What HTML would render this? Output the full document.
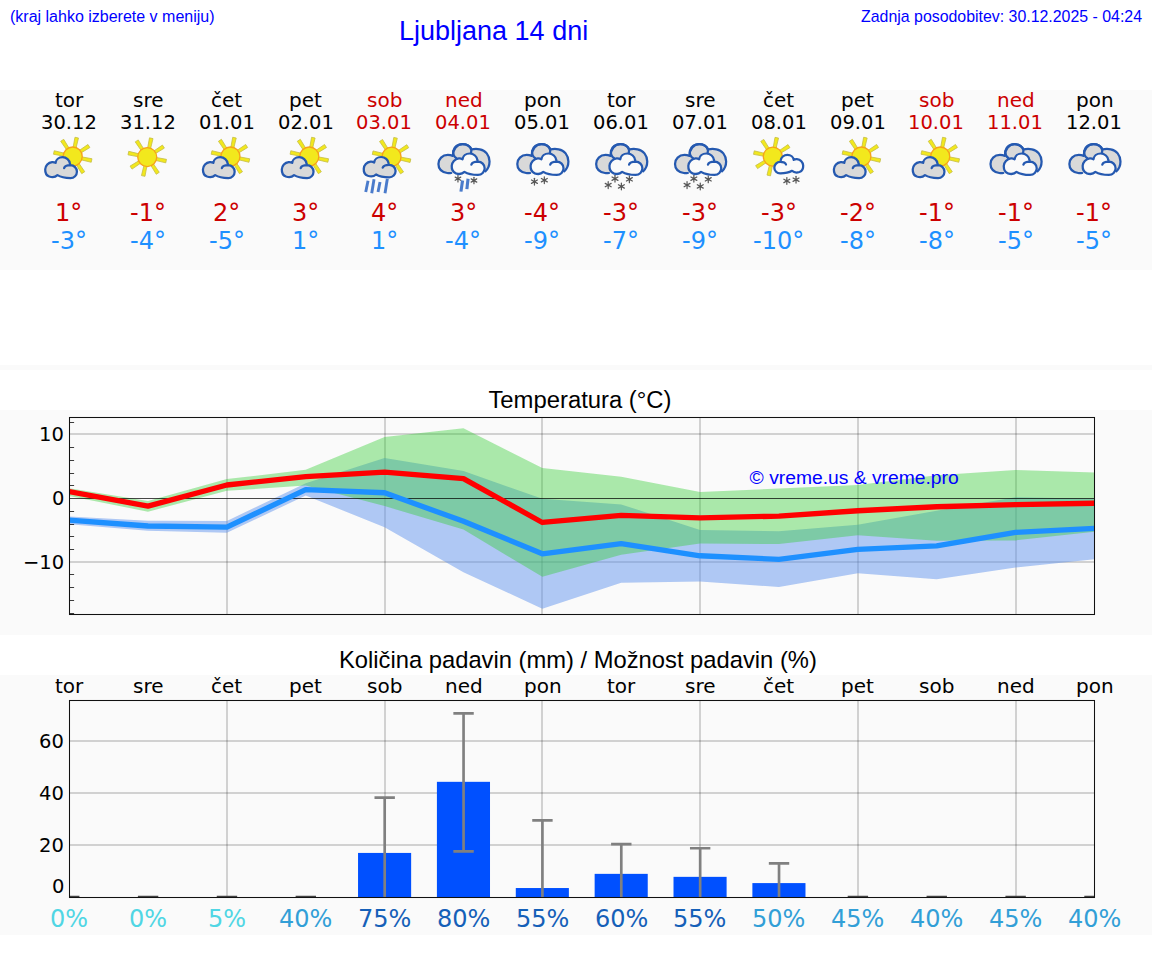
<!DOCTYPE html>
<html><head><meta charset="utf-8"><title>Ljubljana 14 dni</title>
<style>
html,body{margin:0;padding:0;background:#fff;}
body{width:1152px;height:975px;position:relative;overflow:hidden;font-family:"Liberation Sans",sans-serif;}
.t{position:absolute;white-space:nowrap;line-height:1;}
svg text{font-family:"DejaVu Sans","Liberation Sans",sans-serif;}
</style></head><body>
<svg width="1152" height="975" viewBox="0 0 1152 975" style="position:absolute;left:0;top:0"><rect x="0" y="90" width="1152" height="180" fill="#fafafa"/>
<rect x="0" y="365" width="1152" height="5" fill="#fafafa"/>
<rect x="0" y="410" width="1152" height="225" fill="#fafafa"/>
<rect x="0" y="675" width="1152" height="260" fill="#fafafa"/>
<text x="55" y="107" font-size="20" fill="#000">tor</text>
<text x="41" y="129" font-size="19.5" fill="#000">30.12</text>
<text x="55" y="220.7" font-size="24" fill="#cc0000">1°</text>
<text x="51" y="248.6" font-size="24" fill="#1e90ff">-3°</text>
<text x="133" y="107" font-size="20" fill="#000">sre</text>
<text x="120" y="129" font-size="19.5" fill="#000">31.12</text>
<text x="130" y="220.7" font-size="24" fill="#cc0000">-1°</text>
<text x="130" y="248.6" font-size="24" fill="#1e90ff">-4°</text>
<text x="211" y="107" font-size="20" fill="#000">čet</text>
<text x="199" y="129" font-size="19.5" fill="#000">01.01</text>
<text x="213" y="220.7" font-size="24" fill="#cc0000">2°</text>
<text x="209" y="248.6" font-size="24" fill="#1e90ff">-5°</text>
<text x="289" y="107" font-size="20" fill="#000">pet</text>
<text x="278" y="129" font-size="19.5" fill="#000">02.01</text>
<text x="292" y="220.7" font-size="24" fill="#cc0000">3°</text>
<text x="292" y="248.6" font-size="24" fill="#1e90ff">1°</text>
<text x="367" y="107" font-size="20" fill="#cc0000">sob</text>
<text x="356" y="129" font-size="19.5" fill="#cc0000">03.01</text>
<text x="371" y="220.7" font-size="24" fill="#cc0000">4°</text>
<text x="371" y="248.6" font-size="24" fill="#1e90ff">1°</text>
<text x="445" y="107" font-size="20" fill="#cc0000">ned</text>
<text x="435" y="129" font-size="19.5" fill="#cc0000">04.01</text>
<text x="450" y="220.7" font-size="24" fill="#cc0000">3°</text>
<text x="445" y="248.6" font-size="24" fill="#1e90ff">-4°</text>
<text x="524" y="107" font-size="20" fill="#000">pon</text>
<text x="514" y="129" font-size="19.5" fill="#000">05.01</text>
<text x="524" y="220.7" font-size="24" fill="#cc0000">-4°</text>
<text x="524" y="248.6" font-size="24" fill="#1e90ff">-9°</text>
<text x="607" y="107" font-size="20" fill="#000">tor</text>
<text x="593" y="129" font-size="19.5" fill="#000">06.01</text>
<text x="603" y="220.7" font-size="24" fill="#cc0000">-3°</text>
<text x="603" y="248.6" font-size="24" fill="#1e90ff">-7°</text>
<text x="685" y="107" font-size="20" fill="#000">sre</text>
<text x="672" y="129" font-size="19.5" fill="#000">07.01</text>
<text x="682" y="220.7" font-size="24" fill="#cc0000">-3°</text>
<text x="682" y="248.6" font-size="24" fill="#1e90ff">-9°</text>
<text x="763" y="107" font-size="20" fill="#000">čet</text>
<text x="751" y="129" font-size="19.5" fill="#000">08.01</text>
<text x="761" y="220.7" font-size="24" fill="#cc0000">-3°</text>
<text x="753" y="248.6" font-size="24" fill="#1e90ff">-10°</text>
<text x="841" y="107" font-size="20" fill="#000">pet</text>
<text x="830" y="129" font-size="19.5" fill="#000">09.01</text>
<text x="840" y="220.7" font-size="24" fill="#cc0000">-2°</text>
<text x="840" y="248.6" font-size="24" fill="#1e90ff">-8°</text>
<text x="919" y="107" font-size="20" fill="#cc0000">sob</text>
<text x="908" y="129" font-size="19.5" fill="#cc0000">10.01</text>
<text x="919" y="220.7" font-size="24" fill="#cc0000">-1°</text>
<text x="919" y="248.6" font-size="24" fill="#1e90ff">-8°</text>
<text x="997" y="107" font-size="20" fill="#cc0000">ned</text>
<text x="987" y="129" font-size="19.5" fill="#cc0000">11.01</text>
<text x="998" y="220.7" font-size="24" fill="#cc0000">-1°</text>
<text x="998" y="248.6" font-size="24" fill="#1e90ff">-5°</text>
<text x="1076" y="107" font-size="20" fill="#000">pon</text>
<text x="1066" y="129" font-size="19.5" fill="#000">12.01</text>
<text x="1076" y="220.7" font-size="24" fill="#cc0000">-1°</text>
<text x="1076" y="248.6" font-size="24" fill="#1e90ff">-5°</text>
<polygon points="75.95,148.50 78.49,138.00 74.97,137.25 73.02,147.87" fill="#f2e81d" stroke="#c4bd45" stroke-width="0.8" stroke-linejoin="round"/><polygon points="80.67,153.13 89.89,147.50 87.93,144.48 79.03,150.61" fill="#f2e81d" stroke="#c4bd45" stroke-width="0.8" stroke-linejoin="round"/><polygon points="80.72,159.73 91.22,162.27 91.97,158.75 81.35,156.80" fill="#f2e81d" stroke="#c4bd45" stroke-width="0.8" stroke-linejoin="round"/><polygon points="76.09,164.45 81.72,173.67 84.74,171.71 78.61,162.81" fill="#f2e81d" stroke="#c4bd45" stroke-width="0.8" stroke-linejoin="round"/><polygon points="69.49,164.50 66.95,175.00 70.47,175.75 72.42,165.13" fill="#f2e81d" stroke="#c4bd45" stroke-width="0.8" stroke-linejoin="round"/><polygon points="64.77,159.87 55.55,165.50 57.51,168.52 66.41,162.39" fill="#f2e81d" stroke="#c4bd45" stroke-width="0.8" stroke-linejoin="round"/><polygon points="64.72,153.27 54.22,150.73 53.47,154.25 64.09,156.20" fill="#f2e81d" stroke="#c4bd45" stroke-width="0.8" stroke-linejoin="round"/><polygon points="69.35,148.55 63.72,139.33 60.70,141.29 66.83,150.19" fill="#f2e81d" stroke="#c4bd45" stroke-width="0.8" stroke-linejoin="round"/><circle cx="72.72" cy="156.50" r="9.5" fill="#f2e81d" stroke="#f6a21a" stroke-width="1.3"/><path d="M 19.06,10.89 C 19.57,9.19 22.28,8.01 25.44,8.01 C 29.05,8.01 31.87,10.89 31.87,14.44 C 31.87,17.99 29.05,20.87 25.44,20.87 C 20.02,20.87 15.51,19.91 12.41,17.94 C 10.43,19.91 7.05,20.36 4.23,19.35 C 1.41,18.22 0.00,15.40 0.17,12.01 C 0.34,8.63 3.10,5.25 7.05,4.85 C 8.46,4.74 9.59,5.08 10.55,5.64 C 10.89,2.43 13.82,0.00 17.48,0.00 C 21.43,0.00 24.53,2.99 24.87,6.37 C 24.99,7.05 25.16,7.61 25.44,8.01" transform="translate(45.05,157.20) scale(1.0000,1.0000)" fill="#d9d9d9" stroke="#2559b0" stroke-width="2.250" stroke-linecap="round" stroke-linejoin="round"/>
<polygon points="150.47,149.10 153.01,138.60 149.49,137.85 147.54,148.47" fill="#f2e81d" stroke="#c4bd45" stroke-width="0.8" stroke-linejoin="round"/><polygon points="155.18,153.73 164.40,148.10 162.44,145.08 153.55,151.21" fill="#f2e81d" stroke="#c4bd45" stroke-width="0.8" stroke-linejoin="round"/><polygon points="155.24,160.33 165.74,162.87 166.49,159.35 155.86,157.40" fill="#f2e81d" stroke="#c4bd45" stroke-width="0.8" stroke-linejoin="round"/><polygon points="150.61,165.05 156.24,174.27 159.26,172.31 153.13,163.41" fill="#f2e81d" stroke="#c4bd45" stroke-width="0.8" stroke-linejoin="round"/><polygon points="144.00,165.10 141.46,175.60 144.99,176.35 146.94,165.73" fill="#f2e81d" stroke="#c4bd45" stroke-width="0.8" stroke-linejoin="round"/><polygon points="139.29,160.47 130.07,166.10 132.03,169.12 140.93,162.99" fill="#f2e81d" stroke="#c4bd45" stroke-width="0.8" stroke-linejoin="round"/><polygon points="139.24,153.87 128.73,151.33 127.99,154.85 138.61,156.80" fill="#f2e81d" stroke="#c4bd45" stroke-width="0.8" stroke-linejoin="round"/><polygon points="143.87,149.15 138.24,139.93 135.22,141.89 141.35,150.79" fill="#f2e81d" stroke="#c4bd45" stroke-width="0.8" stroke-linejoin="round"/><circle cx="147.24" cy="157.10" r="9.5" fill="#f2e81d" stroke="#f6a21a" stroke-width="1.3"/>
<polygon points="233.69,148.50 236.23,138.00 232.71,137.25 230.76,147.87" fill="#f2e81d" stroke="#c4bd45" stroke-width="0.8" stroke-linejoin="round"/><polygon points="238.40,153.13 247.62,147.50 245.66,144.48 236.77,150.61" fill="#f2e81d" stroke="#c4bd45" stroke-width="0.8" stroke-linejoin="round"/><polygon points="238.46,159.73 248.96,162.27 249.71,158.75 239.08,156.80" fill="#f2e81d" stroke="#c4bd45" stroke-width="0.8" stroke-linejoin="round"/><polygon points="233.83,164.45 239.46,173.67 242.48,171.71 236.34,162.81" fill="#f2e81d" stroke="#c4bd45" stroke-width="0.8" stroke-linejoin="round"/><polygon points="227.22,164.50 224.68,175.00 228.20,175.75 230.16,165.13" fill="#f2e81d" stroke="#c4bd45" stroke-width="0.8" stroke-linejoin="round"/><polygon points="222.51,159.87 213.29,165.50 215.25,168.52 224.14,162.39" fill="#f2e81d" stroke="#c4bd45" stroke-width="0.8" stroke-linejoin="round"/><polygon points="222.45,153.27 211.95,150.73 211.20,154.25 221.83,156.20" fill="#f2e81d" stroke="#c4bd45" stroke-width="0.8" stroke-linejoin="round"/><polygon points="227.08,148.55 221.45,139.33 218.43,141.29 224.57,150.19" fill="#f2e81d" stroke="#c4bd45" stroke-width="0.8" stroke-linejoin="round"/><circle cx="230.46" cy="156.50" r="9.5" fill="#f2e81d" stroke="#f6a21a" stroke-width="1.3"/><path d="M 19.06,10.89 C 19.57,9.19 22.28,8.01 25.44,8.01 C 29.05,8.01 31.87,10.89 31.87,14.44 C 31.87,17.99 29.05,20.87 25.44,20.87 C 20.02,20.87 15.51,19.91 12.41,17.94 C 10.43,19.91 7.05,20.36 4.23,19.35 C 1.41,18.22 0.00,15.40 0.17,12.01 C 0.34,8.63 3.10,5.25 7.05,4.85 C 8.46,4.74 9.59,5.08 10.55,5.64 C 10.89,2.43 13.82,0.00 17.48,0.00 C 21.43,0.00 24.53,2.99 24.87,6.37 C 24.99,7.05 25.16,7.61 25.44,8.01" transform="translate(202.79,157.20) scale(1.0000,1.0000)" fill="#d9d9d9" stroke="#2559b0" stroke-width="2.250" stroke-linecap="round" stroke-linejoin="round"/>
<polygon points="312.56,148.50 315.10,138.00 311.58,137.25 309.62,147.87" fill="#f2e81d" stroke="#c4bd45" stroke-width="0.8" stroke-linejoin="round"/><polygon points="317.27,153.13 326.49,147.50 324.53,144.48 315.63,150.61" fill="#f2e81d" stroke="#c4bd45" stroke-width="0.8" stroke-linejoin="round"/><polygon points="317.33,159.73 327.83,162.27 328.58,158.75 317.95,156.80" fill="#f2e81d" stroke="#c4bd45" stroke-width="0.8" stroke-linejoin="round"/><polygon points="312.69,164.45 318.33,173.67 321.34,171.71 315.21,162.81" fill="#f2e81d" stroke="#c4bd45" stroke-width="0.8" stroke-linejoin="round"/><polygon points="306.09,164.50 303.55,175.00 307.07,175.75 309.02,165.13" fill="#f2e81d" stroke="#c4bd45" stroke-width="0.8" stroke-linejoin="round"/><polygon points="301.38,159.87 292.16,165.50 294.12,168.52 303.01,162.39" fill="#f2e81d" stroke="#c4bd45" stroke-width="0.8" stroke-linejoin="round"/><polygon points="301.32,153.27 290.82,150.73 290.07,154.25 300.70,156.20" fill="#f2e81d" stroke="#c4bd45" stroke-width="0.8" stroke-linejoin="round"/><polygon points="305.95,148.55 300.32,139.33 297.30,141.29 303.44,150.19" fill="#f2e81d" stroke="#c4bd45" stroke-width="0.8" stroke-linejoin="round"/><circle cx="309.32" cy="156.50" r="9.5" fill="#f2e81d" stroke="#f6a21a" stroke-width="1.3"/><path d="M 19.06,10.89 C 19.57,9.19 22.28,8.01 25.44,8.01 C 29.05,8.01 31.87,10.89 31.87,14.44 C 31.87,17.99 29.05,20.87 25.44,20.87 C 20.02,20.87 15.51,19.91 12.41,17.94 C 10.43,19.91 7.05,20.36 4.23,19.35 C 1.41,18.22 0.00,15.40 0.17,12.01 C 0.34,8.63 3.10,5.25 7.05,4.85 C 8.46,4.74 9.59,5.08 10.55,5.64 C 10.89,2.43 13.82,0.00 17.48,0.00 C 21.43,0.00 24.53,2.99 24.87,6.37 C 24.99,7.05 25.16,7.61 25.44,8.01" transform="translate(281.65,157.20) scale(1.0000,1.0000)" fill="#d9d9d9" stroke="#2559b0" stroke-width="2.250" stroke-linecap="round" stroke-linejoin="round"/>
<polygon points="394.78,148.70 397.31,138.20 393.79,137.45 391.84,148.07" fill="#f2e81d" stroke="#c4bd45" stroke-width="0.8" stroke-linejoin="round"/><polygon points="399.49,153.33 408.71,147.70 406.75,144.68 397.85,150.81" fill="#f2e81d" stroke="#c4bd45" stroke-width="0.8" stroke-linejoin="round"/><polygon points="399.54,159.93 410.04,162.47 410.79,158.95 400.17,157.00" fill="#f2e81d" stroke="#c4bd45" stroke-width="0.8" stroke-linejoin="round"/><polygon points="394.91,164.65 400.54,173.87 403.56,171.91 397.43,163.01" fill="#f2e81d" stroke="#c4bd45" stroke-width="0.8" stroke-linejoin="round"/><polygon points="388.31,164.70 385.77,175.20 389.29,175.95 391.24,165.33" fill="#f2e81d" stroke="#c4bd45" stroke-width="0.8" stroke-linejoin="round"/><polygon points="383.60,160.07 374.37,165.70 376.33,168.72 385.23,162.59" fill="#f2e81d" stroke="#c4bd45" stroke-width="0.8" stroke-linejoin="round"/><polygon points="383.54,153.47 373.04,150.93 372.29,154.45 382.91,156.40" fill="#f2e81d" stroke="#c4bd45" stroke-width="0.8" stroke-linejoin="round"/><polygon points="388.17,148.75 382.54,139.53 379.52,141.49 385.65,150.39" fill="#f2e81d" stroke="#c4bd45" stroke-width="0.8" stroke-linejoin="round"/><circle cx="391.54" cy="156.70" r="9.5" fill="#f2e81d" stroke="#f6a21a" stroke-width="1.3"/><path d="M 19.06,10.89 C 19.57,9.19 22.28,8.01 25.44,8.01 C 29.05,8.01 31.87,10.89 31.87,14.44 C 31.87,17.99 29.05,20.87 25.44,20.87 C 20.02,20.87 15.51,19.91 12.41,17.94 C 10.43,19.91 7.05,20.36 4.23,19.35 C 1.41,18.22 0.00,15.40 0.17,12.01 C 0.34,8.63 3.10,5.25 7.05,4.85 C 8.46,4.74 9.59,5.08 10.55,5.64 C 10.89,2.43 13.82,0.00 17.48,0.00 C 21.43,0.00 24.53,2.99 24.87,6.37 C 24.99,7.05 25.16,7.61 25.44,8.01" transform="translate(363.59,157.00) scale(1.0042,0.9728)" fill="#d9d9d9" stroke="#2559b0" stroke-width="2.276" stroke-linecap="round" stroke-linejoin="round"/><line x1="368.0307692307693" y1="180.7" x2="365.7307692307693" y2="192" stroke="#4a7bcb" stroke-width="2.9"/><line x1="374.0307692307693" y1="179.3" x2="371.7307692307693" y2="193.3" stroke="#4a7bcb" stroke-width="2.9"/><line x1="380.0307692307693" y1="182" x2="378.0307692307693" y2="192" stroke="#4a7bcb" stroke-width="2.9"/><line x1="387.3307692307693" y1="178.7" x2="385.0307692307693" y2="193.3" stroke="#4a7bcb" stroke-width="2.9"/>
<g stroke="#5a5a5a" stroke-width="1.25" stroke-linecap="round"><line x1="457.96" y1="175.50" x2="457.96" y2="181.90"/><line x1="460.73" y1="177.10" x2="455.19" y2="180.30"/><line x1="460.73" y1="180.30" x2="455.19" y2="177.10"/><circle cx="457.9584615384616" cy="178.7" r="1.2" fill="#555" stroke="none"/></g><g stroke="#5a5a5a" stroke-width="1.25" stroke-linecap="round"><line x1="473.96" y1="177.30" x2="473.96" y2="183.70"/><line x1="476.73" y1="178.90" x2="471.19" y2="182.10"/><line x1="476.73" y1="182.10" x2="471.19" y2="178.90"/><circle cx="473.9584615384616" cy="180.5" r="1.2" fill="#555" stroke="none"/></g><line x1="462.55846153846164" y1="180.5" x2="460.9584615384616" y2="191.6" stroke="#4a7bcb" stroke-width="3.1"/><line x1="468.05846153846164" y1="178.7" x2="466.8584615384616" y2="189.1" stroke="#4a7bcb" stroke-width="3.1"/><g transform="translate(430.00,135)" stroke="#2559b0" stroke-width="2.25" stroke-linecap="round" stroke-linejoin="round"><path d="M 21.22,38.01 C 19.68,38.25 18.45,38.25 17.22,38.01 C 11.69,36.90 8.43,33.83 8.43,28.91 C 8.43,23.99 12.30,19.99 17.84,19.99 C 19.68,19.99 21.53,20.42 22.88,20.91 C 22.88,13.84 27.06,9.23 32.60,9.23 C 36.90,9.23 39.98,11.38 41.70,14.45 C 44.28,13.84 46.74,13.84 49.82,14.27 C 55.35,15.07 59.53,20.30 59.53,26.45 C 59.53,30.75 58.12,33.83 55.35,36.29 L 43.05,36.90 L 24.60,36.90 Z" fill="#d9d9d9" stroke="none"/><path d="M 21.22,38.01 C 19.68,38.25 18.45,38.25 17.22,38.01 C 11.69,36.90 8.43,33.83 8.43,28.91 C 8.43,23.99 12.30,19.99 17.84,19.99 C 19.68,19.99 21.53,20.42 22.88,20.91 C 22.88,13.84 27.06,9.23 32.60,9.23 C 36.90,9.23 39.98,11.38 41.70,14.45 C 44.28,13.84 46.74,13.84 49.82,14.27 C 55.35,15.07 59.53,20.30 59.53,26.45 C 59.53,30.75 58.12,33.83 55.35,36.29" fill="none"/><path d="M 26.45,23.25 C 23.99,21.53 22.88,18.45 23.25,15.99 C 23.99,11.69 27.98,9.23 32.60,9.23 C 36.90,9.23 40.28,11.69 41.33,15.07 L 41.08,17.84" fill="none"/></g><path d="M 19.06,10.89 C 19.57,9.19 22.28,8.01 25.44,8.01 C 29.05,8.01 31.87,10.89 31.87,14.44 C 31.87,17.99 29.05,20.87 25.44,20.87 C 20.02,20.87 15.51,19.91 12.41,17.94 C 10.43,19.91 7.05,20.36 4.23,19.35 C 1.41,18.22 0.00,15.40 0.17,12.01 C 0.34,8.63 3.10,5.25 7.05,4.85 C 8.46,4.74 9.59,5.08 10.55,5.64 C 10.89,2.43 13.82,0.00 17.48,0.00 C 21.43,0.00 24.53,2.99 24.87,6.37 C 24.99,7.05 25.16,7.61 25.44,8.01" transform="translate(451.56,153.50) scale(1.0387,1.0255)" fill="#fafafa" stroke="#2559b0" stroke-width="2.180" stroke-linecap="round" stroke-linejoin="round"/>
<g transform="translate(508.87,135)" stroke="#2559b0" stroke-width="2.25" stroke-linecap="round" stroke-linejoin="round"><path d="M 21.22,38.01 C 19.68,38.25 18.45,38.25 17.22,38.01 C 11.69,36.90 8.43,33.83 8.43,28.91 C 8.43,23.99 12.30,19.99 17.84,19.99 C 19.68,19.99 21.53,20.42 22.88,20.91 C 22.88,13.84 27.06,9.23 32.60,9.23 C 36.90,9.23 39.98,11.38 41.70,14.45 C 44.28,13.84 46.74,13.84 49.82,14.27 C 55.35,15.07 59.53,20.30 59.53,26.45 C 59.53,30.75 58.12,33.83 55.35,36.29 L 43.05,36.90 L 24.60,36.90 Z" fill="#d9d9d9" stroke="none"/><path d="M 21.22,38.01 C 19.68,38.25 18.45,38.25 17.22,38.01 C 11.69,36.90 8.43,33.83 8.43,28.91 C 8.43,23.99 12.30,19.99 17.84,19.99 C 19.68,19.99 21.53,20.42 22.88,20.91 C 22.88,13.84 27.06,9.23 32.60,9.23 C 36.90,9.23 39.98,11.38 41.70,14.45 C 44.28,13.84 46.74,13.84 49.82,14.27 C 55.35,15.07 59.53,20.30 59.53,26.45 C 59.53,30.75 58.12,33.83 55.35,36.29" fill="none"/><path d="M 26.45,23.25 C 23.99,21.53 22.88,18.45 23.25,15.99 C 23.99,11.69 27.98,9.23 32.60,9.23 C 36.90,9.23 40.28,11.69 41.33,15.07 L 41.08,17.84" fill="none"/></g><path d="M 19.06,10.89 C 19.57,9.19 22.28,8.01 25.44,8.01 C 29.05,8.01 31.87,10.89 31.87,14.44 C 31.87,17.99 29.05,20.87 25.44,20.87 C 20.02,20.87 15.51,19.91 12.41,17.94 C 10.43,19.91 7.05,20.36 4.23,19.35 C 1.41,18.22 0.00,15.40 0.17,12.01 C 0.34,8.63 3.10,5.25 7.05,4.85 C 8.46,4.74 9.59,5.08 10.55,5.64 C 10.89,2.43 13.82,0.00 17.48,0.00 C 21.43,0.00 24.53,2.99 24.87,6.37 C 24.99,7.05 25.16,7.61 25.44,8.01" transform="translate(530.43,153.50) scale(1.0387,1.0255)" fill="#fafafa" stroke="#2559b0" stroke-width="2.180" stroke-linecap="round" stroke-linejoin="round"/><g stroke="#5a5a5a" stroke-width="1.25" stroke-linecap="round"><line x1="534.43" y1="178.30" x2="534.43" y2="185.10"/><line x1="537.37" y1="180.00" x2="531.48" y2="183.40"/><line x1="537.37" y1="183.40" x2="531.48" y2="180.00"/><circle cx="534.426153846154" cy="181.7" r="1.2" fill="#555" stroke="none"/></g><g stroke="#5a5a5a" stroke-width="1.25" stroke-linecap="round"><line x1="544.33" y1="176.80" x2="544.33" y2="183.60"/><line x1="547.27" y1="178.50" x2="541.38" y2="181.90"/><line x1="547.27" y1="181.90" x2="541.38" y2="178.50"/><circle cx="544.3261538461539" cy="180.2" r="1.2" fill="#555" stroke="none"/></g>
<g stroke="#5a5a5a" stroke-width="1.25" stroke-linecap="round"><line x1="614.99" y1="175.30" x2="614.99" y2="182.10"/><line x1="617.94" y1="177.00" x2="612.05" y2="180.40"/><line x1="617.94" y1="180.40" x2="612.05" y2="177.00"/><circle cx="614.9938461538462" cy="178.7" r="1.2" fill="#555" stroke="none"/></g><g stroke="#5a5a5a" stroke-width="1.25" stroke-linecap="round"><line x1="629.39" y1="175.90" x2="629.39" y2="182.70"/><line x1="632.34" y1="177.60" x2="626.45" y2="181.00"/><line x1="632.34" y1="181.00" x2="626.45" y2="177.60"/><circle cx="629.3938461538462" cy="179.3" r="1.2" fill="#555" stroke="none"/></g><g stroke="#5a5a5a" stroke-width="1.25" stroke-linecap="round"><line x1="608.19" y1="181.70" x2="608.19" y2="188.50"/><line x1="611.14" y1="183.40" x2="605.25" y2="186.80"/><line x1="611.14" y1="186.80" x2="605.25" y2="183.40"/><circle cx="608.1938461538463" cy="185.1" r="1.2" fill="#555" stroke="none"/></g><g stroke="#5a5a5a" stroke-width="1.25" stroke-linecap="round"><line x1="621.39" y1="183.00" x2="621.39" y2="189.80"/><line x1="624.34" y1="184.70" x2="618.45" y2="188.10"/><line x1="624.34" y1="188.10" x2="618.45" y2="184.70"/><circle cx="621.3938461538462" cy="186.4" r="1.2" fill="#555" stroke="none"/></g><g transform="translate(587.73,135)" stroke="#2559b0" stroke-width="2.25" stroke-linecap="round" stroke-linejoin="round"><path d="M 21.22,38.01 C 19.68,38.25 18.45,38.25 17.22,38.01 C 11.69,36.90 8.43,33.83 8.43,28.91 C 8.43,23.99 12.30,19.99 17.84,19.99 C 19.68,19.99 21.53,20.42 22.88,20.91 C 22.88,13.84 27.06,9.23 32.60,9.23 C 36.90,9.23 39.98,11.38 41.70,14.45 C 44.28,13.84 46.74,13.84 49.82,14.27 C 55.35,15.07 59.53,20.30 59.53,26.45 C 59.53,30.75 58.12,33.83 55.35,36.29 L 43.05,36.90 L 24.60,36.90 Z" fill="#d9d9d9" stroke="none"/><path d="M 21.22,38.01 C 19.68,38.25 18.45,38.25 17.22,38.01 C 11.69,36.90 8.43,33.83 8.43,28.91 C 8.43,23.99 12.30,19.99 17.84,19.99 C 19.68,19.99 21.53,20.42 22.88,20.91 C 22.88,13.84 27.06,9.23 32.60,9.23 C 36.90,9.23 39.98,11.38 41.70,14.45 C 44.28,13.84 46.74,13.84 49.82,14.27 C 55.35,15.07 59.53,20.30 59.53,26.45 C 59.53,30.75 58.12,33.83 55.35,36.29" fill="none"/><path d="M 26.45,23.25 C 23.99,21.53 22.88,18.45 23.25,15.99 C 23.99,11.69 27.98,9.23 32.60,9.23 C 36.90,9.23 40.28,11.69 41.33,15.07 L 41.08,17.84" fill="none"/></g><path d="M 19.06,10.89 C 19.57,9.19 22.28,8.01 25.44,8.01 C 29.05,8.01 31.87,10.89 31.87,14.44 C 31.87,17.99 29.05,20.87 25.44,20.87 C 20.02,20.87 15.51,19.91 12.41,17.94 C 10.43,19.91 7.05,20.36 4.23,19.35 C 1.41,18.22 0.00,15.40 0.17,12.01 C 0.34,8.63 3.10,5.25 7.05,4.85 C 8.46,4.74 9.59,5.08 10.55,5.64 C 10.89,2.43 13.82,0.00 17.48,0.00 C 21.43,0.00 24.53,2.99 24.87,6.37 C 24.99,7.05 25.16,7.61 25.44,8.01" transform="translate(609.29,153.50) scale(1.0387,1.0255)" fill="#fafafa" stroke="#2559b0" stroke-width="2.180" stroke-linecap="round" stroke-linejoin="round"/>
<g stroke="#5a5a5a" stroke-width="1.25" stroke-linecap="round"><line x1="693.86" y1="175.30" x2="693.86" y2="182.10"/><line x1="696.81" y1="177.00" x2="690.92" y2="180.40"/><line x1="696.81" y1="180.40" x2="690.92" y2="177.00"/><circle cx="693.8615384615385" cy="178.7" r="1.2" fill="#555" stroke="none"/></g><g stroke="#5a5a5a" stroke-width="1.25" stroke-linecap="round"><line x1="708.26" y1="175.90" x2="708.26" y2="182.70"/><line x1="711.21" y1="177.60" x2="705.32" y2="181.00"/><line x1="711.21" y1="181.00" x2="705.32" y2="177.60"/><circle cx="708.2615384615385" cy="179.3" r="1.2" fill="#555" stroke="none"/></g><g stroke="#5a5a5a" stroke-width="1.25" stroke-linecap="round"><line x1="687.06" y1="181.70" x2="687.06" y2="188.50"/><line x1="690.01" y1="183.40" x2="684.12" y2="186.80"/><line x1="690.01" y1="186.80" x2="684.12" y2="183.40"/><circle cx="687.0615384615386" cy="185.1" r="1.2" fill="#555" stroke="none"/></g><g stroke="#5a5a5a" stroke-width="1.25" stroke-linecap="round"><line x1="700.26" y1="183.00" x2="700.26" y2="189.80"/><line x1="703.21" y1="184.70" x2="697.32" y2="188.10"/><line x1="703.21" y1="188.10" x2="697.32" y2="184.70"/><circle cx="700.2615384615385" cy="186.4" r="1.2" fill="#555" stroke="none"/></g><g transform="translate(666.60,135)" stroke="#2559b0" stroke-width="2.25" stroke-linecap="round" stroke-linejoin="round"><path d="M 21.22,38.01 C 19.68,38.25 18.45,38.25 17.22,38.01 C 11.69,36.90 8.43,33.83 8.43,28.91 C 8.43,23.99 12.30,19.99 17.84,19.99 C 19.68,19.99 21.53,20.42 22.88,20.91 C 22.88,13.84 27.06,9.23 32.60,9.23 C 36.90,9.23 39.98,11.38 41.70,14.45 C 44.28,13.84 46.74,13.84 49.82,14.27 C 55.35,15.07 59.53,20.30 59.53,26.45 C 59.53,30.75 58.12,33.83 55.35,36.29 L 43.05,36.90 L 24.60,36.90 Z" fill="#d9d9d9" stroke="none"/><path d="M 21.22,38.01 C 19.68,38.25 18.45,38.25 17.22,38.01 C 11.69,36.90 8.43,33.83 8.43,28.91 C 8.43,23.99 12.30,19.99 17.84,19.99 C 19.68,19.99 21.53,20.42 22.88,20.91 C 22.88,13.84 27.06,9.23 32.60,9.23 C 36.90,9.23 39.98,11.38 41.70,14.45 C 44.28,13.84 46.74,13.84 49.82,14.27 C 55.35,15.07 59.53,20.30 59.53,26.45 C 59.53,30.75 58.12,33.83 55.35,36.29" fill="none"/><path d="M 26.45,23.25 C 23.99,21.53 22.88,18.45 23.25,15.99 C 23.99,11.69 27.98,9.23 32.60,9.23 C 36.90,9.23 40.28,11.69 41.33,15.07 L 41.08,17.84" fill="none"/></g><path d="M 19.06,10.89 C 19.57,9.19 22.28,8.01 25.44,8.01 C 29.05,8.01 31.87,10.89 31.87,14.44 C 31.87,17.99 29.05,20.87 25.44,20.87 C 20.02,20.87 15.51,19.91 12.41,17.94 C 10.43,19.91 7.05,20.36 4.23,19.35 C 1.41,18.22 0.00,15.40 0.17,12.01 C 0.34,8.63 3.10,5.25 7.05,4.85 C 8.46,4.74 9.59,5.08 10.55,5.64 C 10.89,2.43 13.82,0.00 17.48,0.00 C 21.43,0.00 24.53,2.99 24.87,6.37 C 24.99,7.05 25.16,7.61 25.44,8.01" transform="translate(688.16,153.50) scale(1.0387,1.0255)" fill="#fafafa" stroke="#2559b0" stroke-width="2.180" stroke-linecap="round" stroke-linejoin="round"/>
<polygon points="776.01,148.60 778.55,138.10 775.03,137.35 773.08,147.97" fill="#f2e81d" stroke="#c4bd45" stroke-width="0.8" stroke-linejoin="round"/><polygon points="780.72,153.23 789.95,147.60 787.99,144.58 779.09,150.71" fill="#f2e81d" stroke="#c4bd45" stroke-width="0.8" stroke-linejoin="round"/><polygon points="780.78,159.83 791.28,162.37 792.03,158.85 781.41,156.90" fill="#f2e81d" stroke="#c4bd45" stroke-width="0.8" stroke-linejoin="round"/><polygon points="776.15,164.55 781.78,173.77 784.80,171.81 778.67,162.91" fill="#f2e81d" stroke="#c4bd45" stroke-width="0.8" stroke-linejoin="round"/><polygon points="769.54,164.60 767.01,175.10 770.53,175.85 772.48,165.23" fill="#f2e81d" stroke="#c4bd45" stroke-width="0.8" stroke-linejoin="round"/><polygon points="764.83,159.97 755.61,165.60 757.57,168.62 766.47,162.49" fill="#f2e81d" stroke="#c4bd45" stroke-width="0.8" stroke-linejoin="round"/><polygon points="764.78,153.37 754.28,150.83 753.53,154.35 764.15,156.30" fill="#f2e81d" stroke="#c4bd45" stroke-width="0.8" stroke-linejoin="round"/><polygon points="769.41,148.65 763.78,139.43 760.76,141.39 766.89,150.29" fill="#f2e81d" stroke="#c4bd45" stroke-width="0.8" stroke-linejoin="round"/><circle cx="772.78" cy="156.60" r="9.5" fill="#f2e81d" stroke="#f6a21a" stroke-width="1.3"/><path d="M 19.06,10.89 C 19.57,9.19 22.28,8.01 25.44,8.01 C 29.05,8.01 31.87,10.89 31.87,14.44 C 31.87,17.99 29.05,20.87 25.44,20.87 C 20.02,20.87 15.51,19.91 12.41,17.94 C 10.43,19.91 7.05,20.36 4.23,19.35 C 1.41,18.22 0.00,15.40 0.17,12.01 C 0.34,8.63 3.10,5.25 7.05,4.85 C 8.46,4.74 9.59,5.08 10.55,5.64 C 10.89,2.43 13.82,0.00 17.48,0.00 C 21.43,0.00 24.53,2.99 24.87,6.37 C 24.99,7.05 25.16,7.61 25.44,8.01" transform="translate(803.33,154.80) scale(-0.9100,0.8913)" fill="#fafafa" stroke="#2559b0" stroke-width="2.498" stroke-linecap="round" stroke-linejoin="round"/><g stroke="#5a5a5a" stroke-width="1.25" stroke-linecap="round"><line x1="786.83" y1="177.50" x2="786.83" y2="184.30"/><line x1="789.77" y1="179.20" x2="783.88" y2="182.60"/><line x1="789.77" y1="182.60" x2="783.88" y2="179.20"/><circle cx="786.8292307692309" cy="180.9" r="1.2" fill="#555" stroke="none"/></g><g stroke="#5a5a5a" stroke-width="1.25" stroke-linecap="round"><line x1="796.03" y1="176.30" x2="796.03" y2="183.10"/><line x1="798.97" y1="178.00" x2="793.08" y2="181.40"/><line x1="798.97" y1="181.40" x2="793.08" y2="178.00"/><circle cx="796.0292307692309" cy="179.7" r="1.2" fill="#555" stroke="none"/></g>
<polygon points="864.63,148.50 867.17,138.00 863.65,137.25 861.70,147.87" fill="#f2e81d" stroke="#c4bd45" stroke-width="0.8" stroke-linejoin="round"/><polygon points="869.34,153.13 878.56,147.50 876.60,144.48 867.71,150.61" fill="#f2e81d" stroke="#c4bd45" stroke-width="0.8" stroke-linejoin="round"/><polygon points="869.40,159.73 879.90,162.27 880.65,158.75 870.02,156.80" fill="#f2e81d" stroke="#c4bd45" stroke-width="0.8" stroke-linejoin="round"/><polygon points="864.77,164.45 870.40,173.67 873.42,171.71 867.28,162.81" fill="#f2e81d" stroke="#c4bd45" stroke-width="0.8" stroke-linejoin="round"/><polygon points="858.16,164.50 855.62,175.00 859.14,175.75 861.10,165.13" fill="#f2e81d" stroke="#c4bd45" stroke-width="0.8" stroke-linejoin="round"/><polygon points="853.45,159.87 844.23,165.50 846.19,168.52 855.09,162.39" fill="#f2e81d" stroke="#c4bd45" stroke-width="0.8" stroke-linejoin="round"/><polygon points="853.39,153.27 842.89,150.73 842.14,154.25 852.77,156.20" fill="#f2e81d" stroke="#c4bd45" stroke-width="0.8" stroke-linejoin="round"/><polygon points="858.03,148.55 852.39,139.33 849.38,141.29 855.51,150.19" fill="#f2e81d" stroke="#c4bd45" stroke-width="0.8" stroke-linejoin="round"/><circle cx="861.40" cy="156.50" r="9.5" fill="#f2e81d" stroke="#f6a21a" stroke-width="1.3"/><path d="M 19.06,10.89 C 19.57,9.19 22.28,8.01 25.44,8.01 C 29.05,8.01 31.87,10.89 31.87,14.44 C 31.87,17.99 29.05,20.87 25.44,20.87 C 20.02,20.87 15.51,19.91 12.41,17.94 C 10.43,19.91 7.05,20.36 4.23,19.35 C 1.41,18.22 0.00,15.40 0.17,12.01 C 0.34,8.63 3.10,5.25 7.05,4.85 C 8.46,4.74 9.59,5.08 10.55,5.64 C 10.89,2.43 13.82,0.00 17.48,0.00 C 21.43,0.00 24.53,2.99 24.87,6.37 C 24.99,7.05 25.16,7.61 25.44,8.01" transform="translate(833.73,157.20) scale(1.0000,1.0000)" fill="#d9d9d9" stroke="#2559b0" stroke-width="2.250" stroke-linecap="round" stroke-linejoin="round"/>
<polygon points="943.50,148.50 946.04,138.00 942.52,137.25 940.56,147.87" fill="#f2e81d" stroke="#c4bd45" stroke-width="0.8" stroke-linejoin="round"/><polygon points="948.21,153.13 957.43,147.50 955.47,144.48 946.58,150.61" fill="#f2e81d" stroke="#c4bd45" stroke-width="0.8" stroke-linejoin="round"/><polygon points="948.27,159.73 958.77,162.27 959.52,158.75 948.89,156.80" fill="#f2e81d" stroke="#c4bd45" stroke-width="0.8" stroke-linejoin="round"/><polygon points="943.64,164.45 949.27,173.67 952.29,171.71 946.15,162.81" fill="#f2e81d" stroke="#c4bd45" stroke-width="0.8" stroke-linejoin="round"/><polygon points="937.03,164.50 934.49,175.00 938.01,175.75 939.96,165.13" fill="#f2e81d" stroke="#c4bd45" stroke-width="0.8" stroke-linejoin="round"/><polygon points="932.32,159.87 923.10,165.50 925.06,168.52 933.95,162.39" fill="#f2e81d" stroke="#c4bd45" stroke-width="0.8" stroke-linejoin="round"/><polygon points="932.26,153.27 921.76,150.73 921.01,154.25 931.64,156.20" fill="#f2e81d" stroke="#c4bd45" stroke-width="0.8" stroke-linejoin="round"/><polygon points="936.89,148.55 931.26,139.33 928.24,141.29 934.38,150.19" fill="#f2e81d" stroke="#c4bd45" stroke-width="0.8" stroke-linejoin="round"/><circle cx="940.26" cy="156.50" r="9.5" fill="#f2e81d" stroke="#f6a21a" stroke-width="1.3"/><path d="M 19.06,10.89 C 19.57,9.19 22.28,8.01 25.44,8.01 C 29.05,8.01 31.87,10.89 31.87,14.44 C 31.87,17.99 29.05,20.87 25.44,20.87 C 20.02,20.87 15.51,19.91 12.41,17.94 C 10.43,19.91 7.05,20.36 4.23,19.35 C 1.41,18.22 0.00,15.40 0.17,12.01 C 0.34,8.63 3.10,5.25 7.05,4.85 C 8.46,4.74 9.59,5.08 10.55,5.64 C 10.89,2.43 13.82,0.00 17.48,0.00 C 21.43,0.00 24.53,2.99 24.87,6.37 C 24.99,7.05 25.16,7.61 25.44,8.01" transform="translate(912.59,157.20) scale(1.0000,1.0000)" fill="#d9d9d9" stroke="#2559b0" stroke-width="2.250" stroke-linecap="round" stroke-linejoin="round"/>
<g transform="translate(982.07,135)" stroke="#2559b0" stroke-width="2.25" stroke-linecap="round" stroke-linejoin="round"><path d="M 21.22,38.01 C 19.68,38.25 18.45,38.25 17.22,38.01 C 11.69,36.90 8.43,33.83 8.43,28.91 C 8.43,23.99 12.30,19.99 17.84,19.99 C 19.68,19.99 21.53,20.42 22.88,20.91 C 22.88,13.84 27.06,9.23 32.60,9.23 C 36.90,9.23 39.98,11.38 41.70,14.45 C 44.28,13.84 46.74,13.84 49.82,14.27 C 55.35,15.07 59.53,20.30 59.53,26.45 C 59.53,30.75 58.12,33.83 55.35,36.29 L 43.05,36.90 L 24.60,36.90 Z" fill="#d9d9d9" stroke="none"/><path d="M 21.22,38.01 C 19.68,38.25 18.45,38.25 17.22,38.01 C 11.69,36.90 8.43,33.83 8.43,28.91 C 8.43,23.99 12.30,19.99 17.84,19.99 C 19.68,19.99 21.53,20.42 22.88,20.91 C 22.88,13.84 27.06,9.23 32.60,9.23 C 36.90,9.23 39.98,11.38 41.70,14.45 C 44.28,13.84 46.74,13.84 49.82,14.27 C 55.35,15.07 59.53,20.30 59.53,26.45 C 59.53,30.75 58.12,33.83 55.35,36.29" fill="none"/><path d="M 26.45,23.25 C 23.99,21.53 22.88,18.45 23.25,15.99 C 23.99,11.69 27.98,9.23 32.60,9.23 C 36.90,9.23 40.28,11.69 41.33,15.07 L 41.08,17.84" fill="none"/></g><path d="M 19.06,10.89 C 19.57,9.19 22.28,8.01 25.44,8.01 C 29.05,8.01 31.87,10.89 31.87,14.44 C 31.87,17.99 29.05,20.87 25.44,20.87 C 20.02,20.87 15.51,19.91 12.41,17.94 C 10.43,19.91 7.05,20.36 4.23,19.35 C 1.41,18.22 0.00,15.40 0.17,12.01 C 0.34,8.63 3.10,5.25 7.05,4.85 C 8.46,4.74 9.59,5.08 10.55,5.64 C 10.89,2.43 13.82,0.00 17.48,0.00 C 21.43,0.00 24.53,2.99 24.87,6.37 C 24.99,7.05 25.16,7.61 25.44,8.01" transform="translate(1003.63,153.50) scale(1.0387,1.0255)" fill="#fafafa" stroke="#2559b0" stroke-width="2.180" stroke-linecap="round" stroke-linejoin="round"/>
<g transform="translate(1060.94,135)" stroke="#2559b0" stroke-width="2.25" stroke-linecap="round" stroke-linejoin="round"><path d="M 21.22,38.01 C 19.68,38.25 18.45,38.25 17.22,38.01 C 11.69,36.90 8.43,33.83 8.43,28.91 C 8.43,23.99 12.30,19.99 17.84,19.99 C 19.68,19.99 21.53,20.42 22.88,20.91 C 22.88,13.84 27.06,9.23 32.60,9.23 C 36.90,9.23 39.98,11.38 41.70,14.45 C 44.28,13.84 46.74,13.84 49.82,14.27 C 55.35,15.07 59.53,20.30 59.53,26.45 C 59.53,30.75 58.12,33.83 55.35,36.29 L 43.05,36.90 L 24.60,36.90 Z" fill="#d9d9d9" stroke="none"/><path d="M 21.22,38.01 C 19.68,38.25 18.45,38.25 17.22,38.01 C 11.69,36.90 8.43,33.83 8.43,28.91 C 8.43,23.99 12.30,19.99 17.84,19.99 C 19.68,19.99 21.53,20.42 22.88,20.91 C 22.88,13.84 27.06,9.23 32.60,9.23 C 36.90,9.23 39.98,11.38 41.70,14.45 C 44.28,13.84 46.74,13.84 49.82,14.27 C 55.35,15.07 59.53,20.30 59.53,26.45 C 59.53,30.75 58.12,33.83 55.35,36.29" fill="none"/><path d="M 26.45,23.25 C 23.99,21.53 22.88,18.45 23.25,15.99 C 23.99,11.69 27.98,9.23 32.60,9.23 C 36.90,9.23 40.28,11.69 41.33,15.07 L 41.08,17.84" fill="none"/></g><path d="M 19.06,10.89 C 19.57,9.19 22.28,8.01 25.44,8.01 C 29.05,8.01 31.87,10.89 31.87,14.44 C 31.87,17.99 29.05,20.87 25.44,20.87 C 20.02,20.87 15.51,19.91 12.41,17.94 C 10.43,19.91 7.05,20.36 4.23,19.35 C 1.41,18.22 0.00,15.40 0.17,12.01 C 0.34,8.63 3.10,5.25 7.05,4.85 C 8.46,4.74 9.59,5.08 10.55,5.64 C 10.89,2.43 13.82,0.00 17.48,0.00 C 21.43,0.00 24.53,2.99 24.87,6.37 C 24.99,7.05 25.16,7.61 25.44,8.01" transform="translate(1082.50,153.50) scale(1.0387,1.0255)" fill="#fafafa" stroke="#2559b0" stroke-width="2.180" stroke-linecap="round" stroke-linejoin="round"/>
<clipPath id="c1"><rect x="69.5" y="417.5" width="1025.0" height="197.0"/></clipPath>
<g clip-path="url(#c1)">
<line x1="227.0" y1="417.5" x2="227.0" y2="614.5" stroke="#000" stroke-opacity="0.16" stroke-width="2"/>
<line x1="385.0" y1="417.5" x2="385.0" y2="614.5" stroke="#000" stroke-opacity="0.16" stroke-width="2"/>
<line x1="542.0" y1="417.5" x2="542.0" y2="614.5" stroke="#000" stroke-opacity="0.16" stroke-width="2"/>
<line x1="700.0" y1="417.5" x2="700.0" y2="614.5" stroke="#000" stroke-opacity="0.16" stroke-width="2"/>
<line x1="858.0" y1="417.5" x2="858.0" y2="614.5" stroke="#000" stroke-opacity="0.16" stroke-width="2"/>
<line x1="1016.0" y1="417.5" x2="1016.0" y2="614.5" stroke="#000" stroke-opacity="0.16" stroke-width="2"/>
<line x1="69.5" y1="434.00" x2="1094.5" y2="434.00" stroke="#000" stroke-opacity="0.16" stroke-width="2"/>
<line x1="69.5" y1="562.00" x2="1094.5" y2="562.00" stroke="#000" stroke-opacity="0.16" stroke-width="2"/>
<polygon points="69.12,516.39 147.99,520.81 226.86,520.94 305.72,483.21 384.59,458.04 463.46,470.91 542.33,498.84 621.19,504.41 700.06,529.97 778.93,531.19 857.80,524.84 936.66,510.75 1015.53,497.24 1094.40,498.71 1094.40,559.24 1015.53,567.44 936.66,579.22 857.80,573.33 778.93,586.97 700.06,581.53 621.19,582.75 542.33,608.75 463.46,572.18 384.59,527.15 305.72,495.57 226.86,532.79 147.99,530.87 69.12,524.20" fill="#6495ed" fill-opacity="0.5"/>
<polygon points="69.12,488.21 147.99,501.02 226.86,479.11 305.72,469.76 384.59,436.97 463.46,428.26 542.33,467.90 621.19,476.81 700.06,492.05 778.93,488.53 857.80,485.01 936.66,475.14 1015.53,470.02 1094.40,472.45 1094.40,531.70 1015.53,540.41 936.66,540.79 857.80,535.35 778.93,544.06 700.06,543.61 621.19,554.63 542.33,576.85 463.46,529.52 384.59,506.08 305.72,485.58 226.86,490.83 147.99,511.71 69.12,496.02" fill="#32cd32" fill-opacity="0.4"/>
<line x1="69.5" y1="498.5" x2="1094.5" y2="498.5" stroke="#000" stroke-opacity="0.72" stroke-width="1"/>
<polyline points="69.12,520.17 147.99,526.00 226.86,527.15 305.72,489.68 384.59,492.76 463.46,521.32 542.33,553.80 621.19,543.61 700.06,555.78 778.93,559.30 857.80,549.44 936.66,545.92 1015.53,532.34 1094.40,528.43" fill="none" stroke="#1e90ff" stroke-width="5.33" stroke-linejoin="round"/>
<polyline points="69.12,491.60 147.99,506.08 226.86,485.01 305.72,476.55 384.59,472.13 463.46,478.66 542.33,522.47 621.19,515.43 700.06,517.80 778.93,516.13 857.80,510.75 936.66,506.78 1015.53,504.60 1094.40,503.26" fill="none" stroke="#ff0000" stroke-width="5.33" stroke-linejoin="round"/>
</g>
<line x1="69.5" y1="613.5" x2="74.1" y2="613.5" stroke="#000" stroke-opacity="0.85" stroke-width="0.9"/>
<line x1="69.5" y1="600.5" x2="74.1" y2="600.5" stroke="#000" stroke-opacity="0.85" stroke-width="0.9"/>
<line x1="69.5" y1="587.5" x2="74.1" y2="587.5" stroke="#000" stroke-opacity="0.85" stroke-width="0.9"/>
<line x1="69.5" y1="574.5" x2="74.1" y2="574.5" stroke="#000" stroke-opacity="0.85" stroke-width="0.9"/>
<line x1="69.5" y1="549.5" x2="74.1" y2="549.5" stroke="#000" stroke-opacity="0.85" stroke-width="0.9"/>
<line x1="69.5" y1="536.5" x2="74.1" y2="536.5" stroke="#000" stroke-opacity="0.85" stroke-width="0.9"/>
<line x1="69.5" y1="524.5" x2="74.1" y2="524.5" stroke="#000" stroke-opacity="0.85" stroke-width="0.9"/>
<line x1="69.5" y1="511.5" x2="74.1" y2="511.5" stroke="#000" stroke-opacity="0.85" stroke-width="0.9"/>
<line x1="69.5" y1="485.5" x2="74.1" y2="485.5" stroke="#000" stroke-opacity="0.85" stroke-width="0.9"/>
<line x1="69.5" y1="473.5" x2="74.1" y2="473.5" stroke="#000" stroke-opacity="0.85" stroke-width="0.9"/>
<line x1="69.5" y1="460.5" x2="74.1" y2="460.5" stroke="#000" stroke-opacity="0.85" stroke-width="0.9"/>
<line x1="69.5" y1="447.5" x2="74.1" y2="447.5" stroke="#000" stroke-opacity="0.85" stroke-width="0.9"/>
<line x1="69.5" y1="422.5" x2="74.1" y2="422.5" stroke="#000" stroke-opacity="0.85" stroke-width="0.9"/>
<rect x="69.5" y="417.5" width="1025.0" height="197.0" fill="none" stroke="#111" stroke-width="1.05"/>
<text x="39" y="441.3" font-size="19.5" fill="#000">10</text>
<text x="52" y="505.3" font-size="19.5" fill="#000">0</text>
<text x="23" y="569.3" font-size="19.5" fill="#000">−10</text>
<clipPath id="c2"><rect x="69.5" y="700.5" width="1025.0" height="197.0"/></clipPath>
<g clip-path="url(#c2)">
<line x1="227.0" y1="700.5" x2="227.0" y2="897.5" stroke="#000" stroke-opacity="0.16" stroke-width="2"/>
<line x1="385.0" y1="700.5" x2="385.0" y2="897.5" stroke="#000" stroke-opacity="0.16" stroke-width="2"/>
<line x1="542.0" y1="700.5" x2="542.0" y2="897.5" stroke="#000" stroke-opacity="0.16" stroke-width="2"/>
<line x1="700.0" y1="700.5" x2="700.0" y2="897.5" stroke="#000" stroke-opacity="0.16" stroke-width="2"/>
<line x1="858.0" y1="700.5" x2="858.0" y2="897.5" stroke="#000" stroke-opacity="0.16" stroke-width="2"/>
<line x1="1016.0" y1="700.5" x2="1016.0" y2="897.5" stroke="#000" stroke-opacity="0.16" stroke-width="2"/>
<line x1="69.5" y1="845.00" x2="1094.5" y2="845.00" stroke="#000" stroke-opacity="0.16" stroke-width="2"/>
<line x1="69.5" y1="793.00" x2="1094.5" y2="793.00" stroke="#000" stroke-opacity="0.16" stroke-width="2"/>
<line x1="69.5" y1="741.00" x2="1094.5" y2="741.00" stroke="#000" stroke-opacity="0.16" stroke-width="2"/>
<rect x="358.04" y="852.93" width="53.1" height="45.07" fill="#0050ff"/>
<rect x="436.91" y="781.82" width="53.1" height="116.18" fill="#0050ff"/>
<rect x="515.78" y="888.03" width="53.1" height="9.97" fill="#0050ff"/>
<rect x="594.64" y="873.86" width="53.1" height="24.14" fill="#0050ff"/>
<rect x="673.51" y="876.85" width="53.1" height="21.15" fill="#0050ff"/>
<rect x="752.38" y="883.09" width="53.1" height="14.91" fill="#0050ff"/>
<line x1="59.02" y1="897.00" x2="79.42" y2="897.00" stroke="#444" stroke-width="2.67"/>
<line x1="137.89" y1="897.00" x2="158.29" y2="897.00" stroke="#444" stroke-width="2.67"/>
<line x1="216.76" y1="897.00" x2="237.16" y2="897.00" stroke="#444" stroke-width="2.67"/>
<line x1="295.62" y1="897.00" x2="316.02" y2="897.00" stroke="#444" stroke-width="2.67"/>
<line x1="384.69" y1="797.55" x2="384.69" y2="897.00" stroke="#808080" stroke-width="2.67"/>
<line x1="374.49" y1="797.55" x2="394.89" y2="797.55" stroke="#808080" stroke-width="2.67"/>
<line x1="463.56" y1="713.44" x2="463.56" y2="851.37" stroke="#808080" stroke-width="2.67"/>
<line x1="453.36" y1="713.44" x2="473.76" y2="713.44" stroke="#808080" stroke-width="2.67"/>
<line x1="453.36" y1="851.37" x2="473.76" y2="851.37" stroke="#808080" stroke-width="2.67"/>
<line x1="542.43" y1="820.43" x2="542.43" y2="897.00" stroke="#808080" stroke-width="2.67"/>
<line x1="532.23" y1="820.43" x2="552.63" y2="820.43" stroke="#808080" stroke-width="2.67"/>
<line x1="621.29" y1="844.09" x2="621.29" y2="897.00" stroke="#808080" stroke-width="2.67"/>
<line x1="611.09" y1="844.09" x2="631.49" y2="844.09" stroke="#808080" stroke-width="2.67"/>
<line x1="700.16" y1="848.25" x2="700.16" y2="897.00" stroke="#808080" stroke-width="2.67"/>
<line x1="689.96" y1="848.25" x2="710.36" y2="848.25" stroke="#808080" stroke-width="2.67"/>
<line x1="779.03" y1="863.33" x2="779.03" y2="897.00" stroke="#808080" stroke-width="2.67"/>
<line x1="768.83" y1="863.33" x2="789.23" y2="863.33" stroke="#808080" stroke-width="2.67"/>
<line x1="847.70" y1="897.00" x2="868.10" y2="897.00" stroke="#444" stroke-width="2.67"/>
<line x1="926.56" y1="897.00" x2="946.96" y2="897.00" stroke="#444" stroke-width="2.67"/>
<line x1="1005.43" y1="897.00" x2="1025.83" y2="897.00" stroke="#444" stroke-width="2.67"/>
<line x1="1084.30" y1="897.00" x2="1104.70" y2="897.00" stroke="#444" stroke-width="2.67"/>
</g>
<rect x="69.5" y="700.5" width="1025.0" height="197.0" fill="none" stroke="#111" stroke-width="1.05"/>
<text x="39" y="748.3" font-size="19.5" fill="#000">60</text>
<text x="39" y="800.3" font-size="19.5" fill="#000">40</text>
<text x="39" y="852.3" font-size="19.5" fill="#000">20</text>
<text x="52" y="893" font-size="19.5" fill="#000">0</text>
<text x="55" y="692.8" font-size="20" fill="#000">tor</text>
<text x="133" y="692.8" font-size="20" fill="#000">sre</text>
<text x="211" y="692.8" font-size="20" fill="#000">čet</text>
<text x="289" y="692.8" font-size="20" fill="#000">pet</text>
<text x="367" y="692.8" font-size="20" fill="#000">sob</text>
<text x="445" y="692.8" font-size="20" fill="#000">ned</text>
<text x="524" y="692.8" font-size="20" fill="#000">pon</text>
<text x="607" y="692.8" font-size="20" fill="#000">tor</text>
<text x="685" y="692.8" font-size="20" fill="#000">sre</text>
<text x="763" y="692.8" font-size="20" fill="#000">čet</text>
<text x="841" y="692.8" font-size="20" fill="#000">pet</text>
<text x="919" y="692.8" font-size="20" fill="#000">sob</text>
<text x="997" y="692.8" font-size="20" fill="#000">ned</text>
<text x="1076" y="692.8" font-size="20" fill="#000">pon</text>
<text x="50" y="926.7" font-size="24" fill="#50d6e4">0%</text>
<text x="129" y="926.7" font-size="24" fill="#50d6e4">0%</text>
<text x="208" y="926.7" font-size="24" fill="#50d6e4">5%</text>
<text x="279" y="926.7" font-size="24" fill="#329fd7">40%</text>
<text x="358" y="926.7" font-size="24" fill="#1560b8">75%</text>
<text x="437" y="926.7" font-size="24" fill="#1560b8">80%</text>
<text x="516" y="926.7" font-size="24" fill="#1560b8">55%</text>
<text x="595" y="926.7" font-size="24" fill="#1560b8">60%</text>
<text x="673" y="926.7" font-size="24" fill="#1560b8">55%</text>
<text x="752" y="926.7" font-size="24" fill="#329fd7">50%</text>
<text x="831" y="926.7" font-size="24" fill="#329fd7">45%</text>
<text x="910" y="926.7" font-size="24" fill="#329fd7">40%</text>
<text x="989" y="926.7" font-size="24" fill="#329fd7">45%</text>
<text x="1068" y="926.7" font-size="24" fill="#329fd7">40%</text></svg>
<div class="t" style="left:10px;top:9px;font-size:16px;color:#0000ff">(kraj lahko izberete v meniju)</div>
<div class="t" style="right:10px;top:9px;font-size:15.9px;color:#0000ff">Zadnja posodobitev: 30.12.2025 - 04:24</div>
<div class="t" style="left:399px;top:17.5px;font-size:27px;color:#0000ff">Ljubljana 14 dni</div>
<div class="t" style="left:488.4px;top:388px;font-size:23.85px;color:#000">Temperatura (°C)</div>
<div class="t" style="left:339px;top:648px;font-size:23.75px;color:#000">Količina padavin (mm) / Možnost padavin (%)</div>
<div class="t" style="left:749.6px;top:468px;font-size:19.28px;color:#0000ff">© vreme.us &amp; vreme.pro</div>
</body></html>
